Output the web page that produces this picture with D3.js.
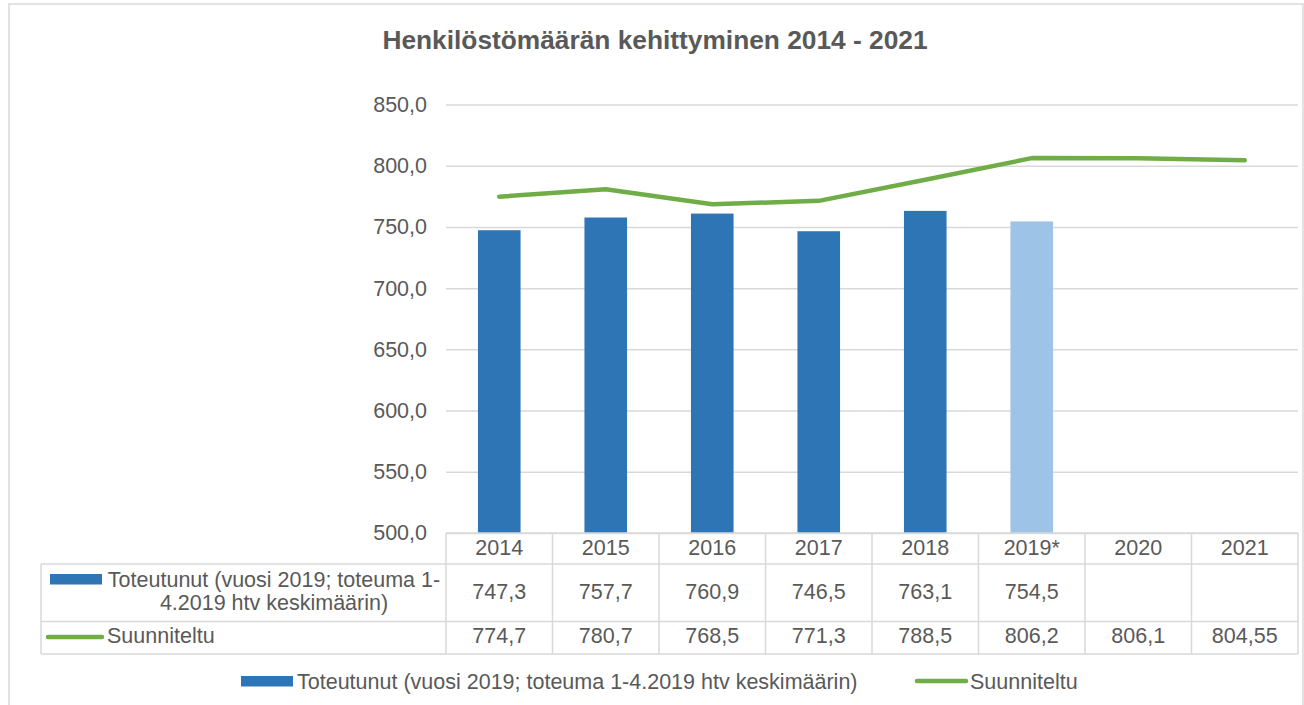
<!DOCTYPE html>
<html>
<head>
<meta charset="utf-8">
<script src="https://cdn.jsdelivr.net/npm/d3@7"></script>
<style>
  body { margin: 0; background: #fff; }
  svg text { font-family: "Liberation Sans", Arial, sans-serif; fill: #595959; }
</style>
</head>
<body>
<div id="chart"></div>
<script>
// vuodet (kategoriat)
const years = ["2014", "2015", "2016", "2017", "2018", "2019*", "2020", "2021"]
// toteutunut henkilöstömäärä (2019 = tammi-huhti keskiarvo)
const toteutunut = [747.3, 757.7, 760.9, 746.5, 763.1, 754.5, null, null]
// suunniteltu henkilöstömäärä
const suunniteltu = [774.7, 780.7, 768.5, 771.3, 788.5, 806.2, 806.1, 804.55]
// y-akselin jaotus
const yTicks = [500, 550, 600, 650, 700, 750, 800, 850]

const title = "Henkilöstömäärän kehittyminen 2014 - 2021"
const seriesNames = ["Toteutunut (vuosi 2019; toteuma 1-4.2019 htv keskimäärin)", "Suunniteltu"]

const W = 1304, H = 705
const config = {
  left: 446, right: 1298, top: 104.5, bottom: 533,
  tableLeft: 41, headerH: 31, row1H: 57.5, row2H: 32.5,
  fontSize: "21.5px",
  blue: "#2E75B6", lightBlue: "#9DC3E6", green: "#70AD47", grid: "#D9D9D9"
}

const svg = d3.select("#chart").append("svg").attr("width", W).attr("height", H)

// ulkokehys
svg.append("rect")
  .attr("x", 9).attr("y", 4).attr("width", 1294).attr("height", H + 10)
  .attr("fill", "none").attr("stroke", config.grid).attr("stroke-width", 1.5)

svg.append("text")
  .attr("x", 655).attr("y", 49)
  .attr("text-anchor", "middle")
  .style("font-size", "26.3px").style("font-weight", "bold")
  .text(title)

const x = d3.scaleBand().domain(years).range([config.left, config.right]).padding(0)
const y = d3.scaleLinear().domain([500, 850]).range([config.bottom, config.top])
const fmt = d3.formatLocale({ decimal: ",", thousands: " ", grouping: [3], currency: ["", "€"] }).format(".1f")
const numText = v => String(v).replace(".", ",")

// vaakaviivat
const gGrid = svg.append("g").attr("transform", `translate(${config.left},0)`)
  .call(d3.axisLeft(y).tickValues(yTicks).tickSize(-(config.right - config.left)).tickFormat(fmt).tickPadding(19))
gGrid.select(".domain").remove()
gGrid.selectAll(".tick line").attr("stroke", config.grid).attr("stroke-width", 1.5)
gGrid.selectAll(".tick text").style("font-size", config.fontSize).attr("fill", "#595959")
  .style("font-family", "'Liberation Sans', Arial, sans-serif")

// pylväät
const step = x.step()
svg.append("g").selectAll("rect")
  .data(years.map((yr, i) => ({ yr, v: toteutunut[i], i })).filter(d => d.v != null))
  .enter().append("rect")
  .attr("x", d => x(d.yr) + step * 0.3)
  .attr("width", step * 0.4)
  .attr("y", d => y(d.v))
  .attr("height", d => y(500) - y(d.v))
  .attr("fill", d => d.yr === "2019*" ? config.lightBlue : config.blue)

// viiva
const line = d3.line().x((d, i) => x(years[i]) + step / 2).y(d => y(d))
svg.append("path")
  .datum(suunniteltu)
  .attr("d", line)
  .attr("fill", "none")
  .attr("stroke", config.green)
  .attr("stroke-width", 4.5)
  .attr("stroke-linecap", "round")
  .attr("stroke-linejoin", "round")

// datataulukko
const t = svg.append("g")
const y0 = config.bottom, y1 = y0 + config.headerH, y2 = y1 + config.row1H, y3 = y2 + config.row2H
const lineStyle = s => s.attr("stroke", config.grid).attr("stroke-width", 1.5)
lineStyle(t.append("line").attr("x1", config.left).attr("x2", config.right).attr("y1", y0).attr("y2", y0))
;[y1, y2, y3].forEach(yy => lineStyle(t.append("line").attr("x1", config.tableLeft).attr("x2", config.right).attr("y1", yy).attr("y2", yy)))
lineStyle(t.append("line").attr("x1", config.tableLeft).attr("x2", config.tableLeft).attr("y1", y1).attr("y2", y3))
years.forEach(yr => lineStyle(t.append("line").attr("x1", x(yr)).attr("x2", x(yr)).attr("y1", y0).attr("y2", y3)))
lineStyle(t.append("line").attr("x1", config.right).attr("x2", config.right).attr("y1", y0).attr("y2", y3))

t.selectAll(".hdr").data(years).enter().append("text")
  .attr("x", d => x(d) + step / 2).attr("y", y0 + 22)
  .attr("text-anchor", "middle").style("font-size", config.fontSize).text(d => d)
t.selectAll(".r1").data(toteutunut).enter().append("text")
  .attr("x", (d, i) => x(years[i]) + step / 2).attr("y", y1 + 35)
  .attr("text-anchor", "middle").style("font-size", config.fontSize).text(d => d == null ? "" : numText(d))
t.selectAll(".r2").data(suunniteltu).enter().append("text")
  .attr("x", (d, i) => x(years[i]) + step / 2).attr("y", y2 + 21)
  .attr("text-anchor", "middle").style("font-size", config.fontSize).text(d => numText(d))

// taulukon selitteet
t.append("rect").attr("x", 50).attr("y", y1 + 10).attr("width", 52).attr("height", 10.5).attr("fill", config.blue)
const lab1 = t.append("text").attr("text-anchor", "middle").style("font-size", config.fontSize)
lab1.append("tspan").attr("x", 274).attr("y", y1 + 23).text("Toteutunut (vuosi 2019; toteuma 1-")
lab1.append("tspan").attr("x", 274).attr("y", y1 + 46).text("4.2019 htv keskimäärin)")
t.append("line").attr("x1", 48).attr("x2", 102).attr("y1", y2 + 15.5).attr("y2", y2 + 15.5)
  .attr("stroke", config.green).attr("stroke-width", 4.5).attr("stroke-linecap", "round")
t.append("text").attr("x", 107).attr("y", y2 + 21).style("font-size", config.fontSize).text(seriesNames[1])

// alaselite
const lg = svg.append("g")
lg.append("rect").attr("x", 241).attr("y", 676).attr("width", 52).attr("height", 10.5).attr("fill", config.blue)
lg.append("text").attr("x", 297).attr("y", 689).style("font-size", config.fontSize).text(seriesNames[0])
lg.append("line").attr("x1", 917).attr("x2", 966).attr("y1", 681).attr("y2", 681)
  .attr("stroke", config.green).attr("stroke-width", 4.5).attr("stroke-linecap", "round")
lg.append("text").attr("x", 970).attr("y", 689).style("font-size", config.fontSize).text(seriesNames[1])
</script>
</body>
</html>
